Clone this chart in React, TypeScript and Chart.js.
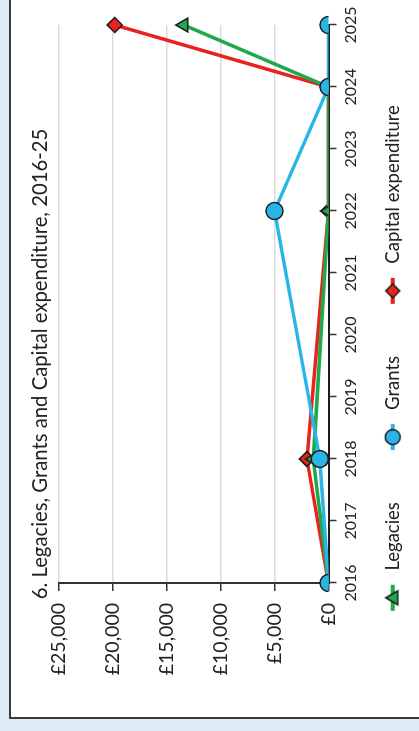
import React, { useEffect, useRef } from 'react';
import { Chart, registerables } from 'chart.js';

Chart.register(...registerables);

const years = ['2016', '2017', '2018', '2019', '2020', '2021', '2022', '2023', '2024', '2025'];
const legacies = [0, null, 1400, null, null, null, 0, null, 0, 13400];
const grants = [0, null, 800, null, null, null, 5000, null, 0, 0];
const capital = [0, null, 2000, null, null, null, 0, null, 0, 19800];
const seriesNames = ['Legacies', 'Grants', 'Capital expenditure'];
const yMin = 0;
const yMax = 25000;
const yStep = 5000;
const titleText = '6. Legacies, Grants and Capital expenditure, 2016-25';

const GREEN = '#1ea94c';
const BLUE = '#29b5e8';
const RED = '#e8221c';
const DARK = '#1c1c1c';
const FONT = 'Lato, "Open Sans", sans-serif';

function legendIcon(color: string, shape: string): HTMLCanvasElement {
  const c = document.createElement('canvas');
  c.width = 71;
  c.height = 22;
  const ctx = c.getContext('2d')!;
  ctx.strokeStyle = color;
  ctx.lineWidth = 4;
  ctx.beginPath();
  ctx.moveTo(40, 11);
  ctx.lineTo(66, 11);
  ctx.stroke();
  const cx = 53;
  const cy = 11;
  ctx.fillStyle = color;
  ctx.strokeStyle = DARK;
  ctx.lineWidth = 1.5;
  ctx.beginPath();
  if (shape === 'circle') {
    ctx.arc(cx, cy, 7.5, 0, Math.PI * 2);
  } else if (shape === 'triangle') {
    ctx.moveTo(cx, cy - 7);
    ctx.lineTo(cx + 7, cy + 5);
    ctx.lineTo(cx - 7, cy + 5);
    ctx.closePath();
  } else {
    ctx.moveTo(cx, cy - 7);
    ctx.lineTo(cx + 7, cy);
    ctx.lineTo(cx, cy + 7);
    ctx.lineTo(cx - 7, cy);
    ctx.closePath();
  }
  ctx.fill();
  ctx.stroke();
  return c;
}

// Title drawn centred on the whole canvas (independent of the asymmetric layout padding)
const centredTitle = {
  id: 'centredTitle',
  afterDraw(chart: any) {
    const ctx = chart.ctx;
    ctx.save();
    ctx.font = `normal 20.3px ${FONT}`;
    ctx.fillStyle = '#222';
    ctx.textAlign = 'center';
    ctx.textBaseline = 'middle';
    ctx.fillText(titleText, chart.width / 2 + 1.5, 40);
    ctx.restore();
  },
};

export default function App() {
  const ref = useRef<HTMLCanvasElement>(null);

  useEffect(() => {
    document.body.style.margin = '0';
    const icons = [legendIcon(GREEN, 'triangle'), legendIcon(BLUE, 'circle'), legendIcon(RED, 'diamond')];
    const common = {
      borderWidth: 3.5,
      pointBorderColor: DARK,
      pointBorderWidth: 1.5,
      spanGaps: true,
      tension: 0,
    };
    const chart = new Chart(ref.current!, {
      type: 'line',
      plugins: [centredTitle],
      data: {
        labels: years,
        datasets: [
          {
            ...common,
            label: seriesNames[0],
            data: legacies,
            borderColor: GREEN,
            backgroundColor: GREEN,
            pointBackgroundColor: GREEN,
            pointStyle: 'triangle',
            pointRadius: 8,
            order: 2,
          },
          {
            ...common,
            label: seriesNames[1],
            data: grants,
            borderColor: BLUE,
            backgroundColor: BLUE,
            pointBackgroundColor: BLUE,
            pointStyle: 'circle',
            pointRadius: 8.5,
            order: 1,
          },
          {
            ...common,
            label: seriesNames[2],
            data: capital,
            borderColor: RED,
            backgroundColor: RED,
            pointBackgroundColor: RED,
            pointStyle: 'rectRot',
            pointRadius: 7.5,
            order: 3,
          },
        ],
      } as any,
      options: {
        responsive: false,
        animation: false,
        devicePixelRatio: 1,
        layout: { padding: { left: 0, right: 25, top: 58.5, bottom: 7 } },
        font: { family: FONT },
        plugins: {
          tooltip: { enabled: false },
          title: { display: false },
          legend: {
            position: 'bottom',
            labels: {
              usePointStyle: true,
              pointStyleWidth: 71,
              padding: 12,
              color: '#222',
              font: { family: FONT, size: 18.5 },
              generateLabels: (ch: any) => {
                const items = (Chart.defaults.plugins.legend.labels as any).generateLabels(ch);
                items.sort((a: any, b: any) => a.datasetIndex - b.datasetIndex);
                return items.map((it: any) => ({ ...it, pointStyle: icons[it.datasetIndex], fontColor: '#222' }));
              },
            },
          },
        },
        scales: {
          x: {
            type: 'category',
            offset: false,
            z: 1,
            afterFit: (s: any) => {
              s.height = 43;
            },
            grid: { drawOnChartArea: false, drawTicks: true, tickLength: 8, tickColor: '#333', tickWidth: 1.5 },
            border: { color: DARK, width: 2 },
            ticks: { color: '#222', font: { family: FONT, size: 16 }, padding: 5, maxRotation: 0, autoSkip: false },
          },
          y: {
            min: yMin,
            max: yMax,
            afterFit: (s: any) => {
              s.width = 148;
            },
            grid: { color: '#dcdcdc', lineWidth: 1.5, tickLength: 8, tickColor: '#333', tickWidth: 1.5 },
            border: { color: '#333', width: 2 },
            ticks: {
              stepSize: yStep,
              color: '#222',
              padding: 12,
              font: { family: FONT, size: 19.5 },
              callback: (v: any) => '£' + Number(v).toLocaleString('en-GB'),
            },
          },
        },
      } as any,
    });
    return () => chart.destroy();
  }, []);

  return (
    <div style={{ position: 'fixed', left: 0, top: 0, width: 419, height: 731, background: '#dcebf4', overflow: 'hidden' }}>
      <div
        style={{
          position: 'absolute',
          left: 0,
          top: 0,
          width: 731,
          height: 419,
          transformOrigin: '0 0',
          transform: 'translate(0px, 731px) rotate(-90deg)',
        }}
      >
        <div
          style={{
            position: 'absolute',
            left: 12,
            top: 9,
            width: 800,
            height: 500,
            border: '2px solid #3b3b3b',
            background: '#fff',
            boxSizing: 'border-box',
          }}
        />
        <canvas ref={ref} width={731} height={419} style={{ position: 'absolute', left: 0, top: 0, width: 731, height: 419 }} />
      </div>
    </div>
  );
}
